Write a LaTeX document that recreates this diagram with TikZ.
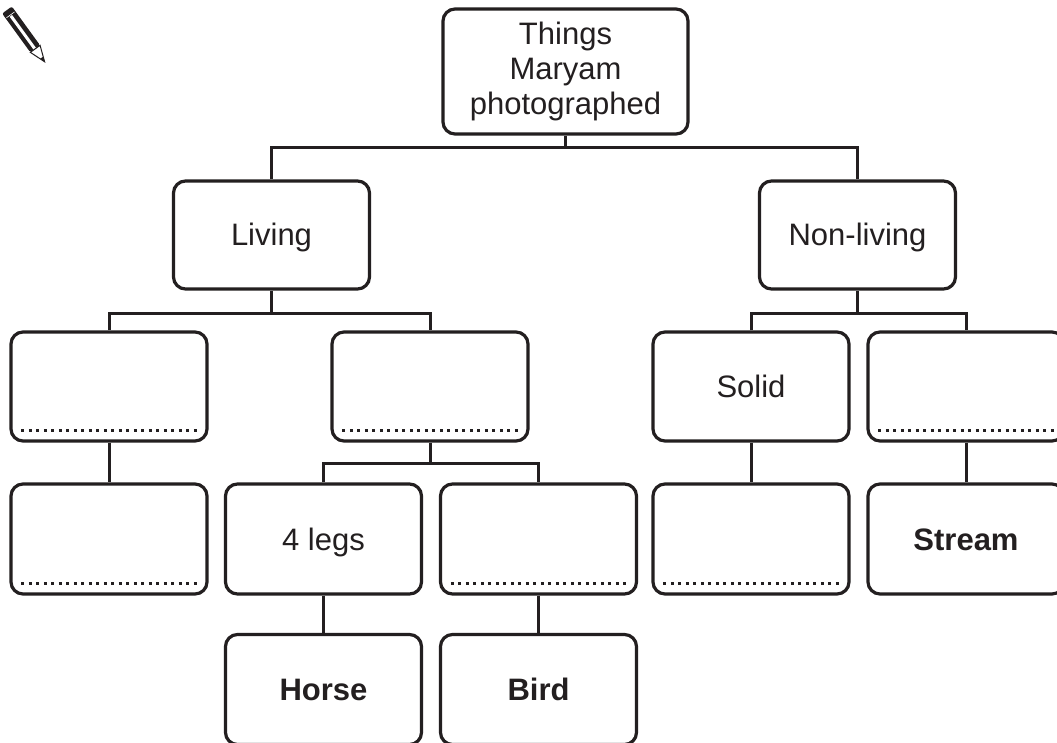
\documentclass[tikz,border=0pt]{standalone}
\usepackage{fontspec}
\setmainfont{Liberation Sans}
\definecolor{ink}{HTML}{231F20}
\begin{document}
\begin{tikzpicture}[x=1pt,y=-1pt,
  boxbase/.style={draw=ink, line width=3.2pt, rounded corners=12pt, minimum width=196pt, minimum height=108pt, inner sep=0pt, text=ink, font=\fontsize{31}{35}\selectfont},
  box/.style={boxbase, text height=22pt, text depth=0pt},
  bbox/.style={box, font=\fontsize{31}{35}\selectfont\bfseries},
  conn/.style={draw=ink, line width=3pt},
  dots/.style={draw=ink, line width=3pt, dash pattern=on 3pt off 4.5pt}
]
\useasboundingbox (0,0) rectangle (1057,743);
\fill[white] (0,0) rectangle (1057,743);

% pencil
\begin{scope}[shift={(7,10)}, rotate=-54]
  \fill[ink, rounded corners=2pt] (0,-6) rectangle (48,6);
  \fill[white] (7,-1.2) rectangle (48,1.8);
  \draw[white, line width=0.6pt] (6,-5) -- (6,5);
  \draw[ink, line width=1pt, fill=white] (48,-6) -- (64,0) -- (48,6) -- cycle;
  \fill[ink] (59,-1.9) -- (64,0) -- (59,1.9) -- cycle;
\end{scope}

% level 1
\node[boxbase, align=center, minimum width=245pt, minimum height=125pt] (root) at (565.5,71.5) {Things\\Maryam\\photographed};
% level 2
\node[box] (living) at (271.5,235) {Living};
\node[box] (nonliving) at (857.5,235) {Non-living};
% level 3
\node[box, minimum height=109pt] (a) at (109,386.5) {};
\node[box, minimum height=109pt] (b) at (430,386.5) {};
\node[box, minimum height=109pt] (solid) at (751,386.5) {Solid};
\node[box, minimum height=109pt] (d) at (966,386.5) {};
% level 4
\node[box, minimum height=110pt] (e) at (109,539) {};
\node[box, minimum height=110pt] (legs) at (323.5,539) {4 legs};
\node[box, minimum height=110pt] (f) at (538.5,539) {};
\node[box, minimum height=110pt] (g) at (751,539) {};
\node[bbox, minimum height=110pt] (stream) at (966,539) {Stream};
% level 5
\node[bbox, minimum height=110pt] (horse) at (323.5,689.5) {Horse};
\node[bbox, minimum height=110pt] (bird) at (538.5,689.5) {Bird};

% dotted answer lines
\foreach \n in {a,b,d,e,f,g}{
  \draw[dots] ([xshift=12pt,yshift=12.5pt]\n.south west) -- ([xshift=-12pt,yshift=12.5pt]\n.south east);
}

% connectors
\coordinate (j1) at (565.5,148);
\coordinate (j2) at (271.5,313);
\coordinate (j3) at (857.5,313);
\coordinate (j4) at (430,463);
\draw[conn] (root.south) -- (j1);
\draw[conn] (living.north) |- (j1) -| (nonliving.north);
\draw[conn] (living.south) -- (j2);
\draw[conn] (a.north) |- (j2) -| (b.north);
\draw[conn] (nonliving.south) -- (j3);
\draw[conn] (solid.north) |- (j3) -| (d.north);
\draw[conn] (b.south) -- (j4);
\draw[conn] (legs.north) |- (j4) -| (f.north);
\draw[conn] (a.south) -- (e.north);
\draw[conn] (solid.south) -- (g.north);
\draw[conn] (d.south) -- (stream.north);
\draw[conn] (legs.south) -- (horse.north);
\draw[conn] (f.south) -- (bird.north);
\end{tikzpicture}
\end{document}
